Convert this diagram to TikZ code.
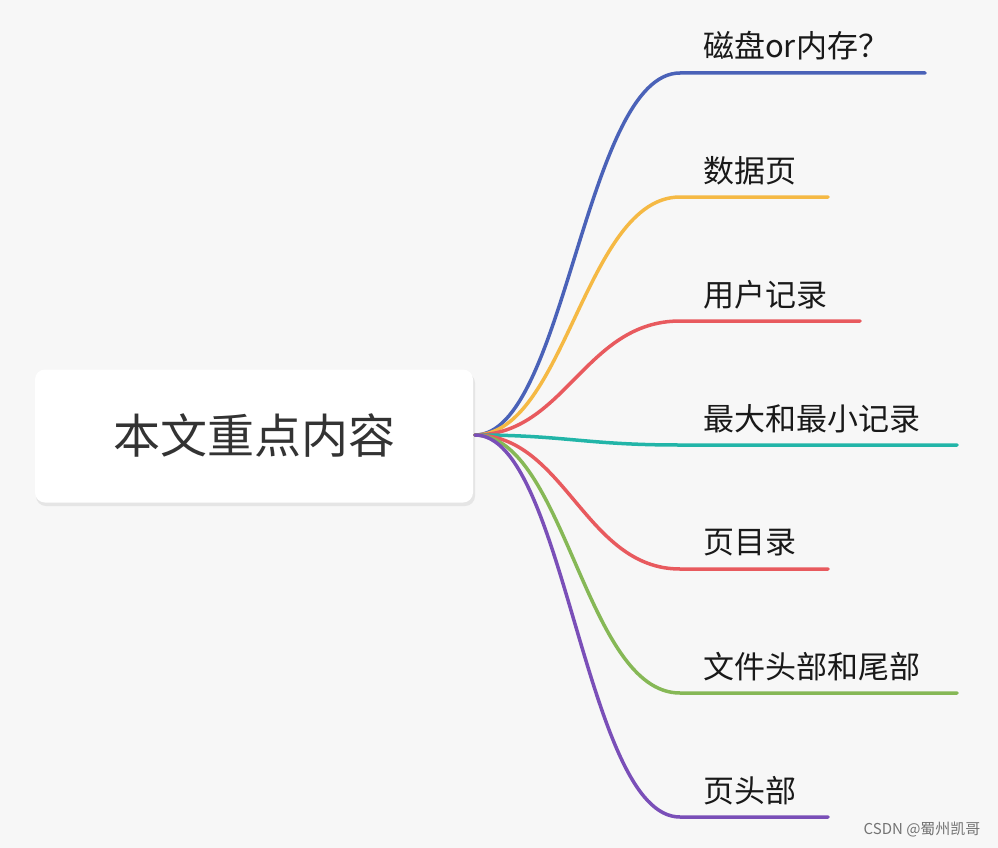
\documentclass[tikz,border=0pt]{standalone}
\usepackage{fontspec}
\setmainfont{Noto Sans CJK SC}
\begin{document}
\begin{tikzpicture}[x=1pt,y=-1pt,
  br/.style={line width=3.5pt,line cap=round},
  lab/.style={anchor=west,font=\fontsize{31}{34}\selectfont,text=black!90,inner sep=0pt}]
\fill[black!3] (0,0) rectangle (998,848);
\useasboundingbox (0,0) rectangle (998,848);
\fill[black!10,rounded corners=10pt] (36,373) rectangle (475,506);
\node[draw=none,fill=white,rounded corners=10pt,minimum width=438pt,minimum height=133pt,font=\fontsize{47}{50}\selectfont,text=black!80] (root) at (254,436) {本文重点内容};
\coordinate (o) at (475,435);
\definecolor{bb}{HTML}{4A62B8}\definecolor{yy}{HTML}{F5B944}\definecolor{rr}{HTML}{E85A5E}
\definecolor{tt}{HTML}{22B5A8}\definecolor{gg}{HTML}{86B856}\definecolor{pp}{HTML}{7A4FB8}
\foreach \i/\y/\e/\c in {1/73/925/bb,2/197/828/yy,3/321/860/rr,4/445/957/tt,5/569/828/rr,6/693/957/gg,7/817/828/pp}{
  \coordinate (s\i) at (680,\y);
  \coordinate (e\i) at (\e,\y);
  \draw[br,color=\c] (o) .. controls (565,435) and (585,\y) .. (s\i) -- (e\i);
}
\node[lab] (l1) at (703,46) {磁盘or内存？};
\node[lab] (l2) at (703,171) {数据页};
\node[lab] (l3) at (703,295) {用户记录};
\node[lab] (l4) at (703,419) {最大和最小记录};
\node[lab] (l5) at (703,543) {页目录};
\node[lab] (l6) at (703,667) {文件头部和尾部};
\node[lab] (l7) at (703,791) {页头部};
\node[anchor=east,font=\fontsize{15}{17}\selectfont,text=black!55] (wm) at (984,830) {CSDN @蜀州凯哥};
\end{tikzpicture}
\end{document}
